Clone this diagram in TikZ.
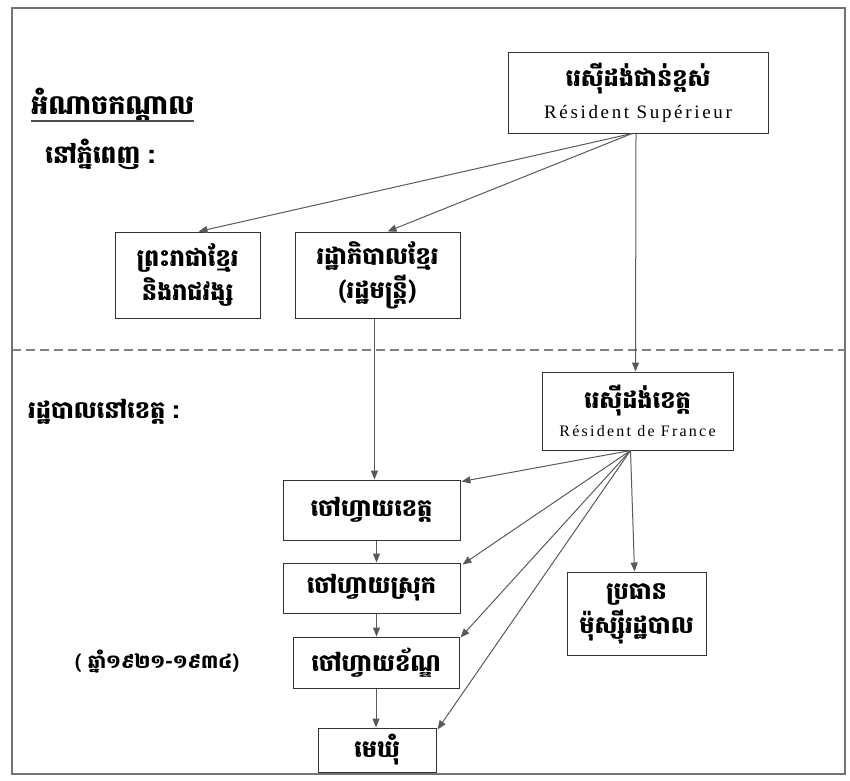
\documentclass[tikz,border=0pt]{standalone}
\usepackage{fontspec}
\newfontfamily\kh[Script=Khmer]{Battambang}
\newfontfamily\lat[LetterSpace=14]{Liberation Serif}
\usetikzlibrary{arrows.meta}
\begin{document}
\begin{tikzpicture}[x=1pt,y=-1pt,
  khfont/.style={font=\kh\bfseries\fontsize{24}{34}\selectfont},
  box/.style={draw=black!80,line width=1pt,align=center,inner sep=0pt,khfont},
  lbl/.style={anchor=west,inner sep=0pt,font=\kh\bfseries\fontsize{27}{30}\selectfont},
  arr/.style={draw=black!65,line width=1pt,-{Triangle[length=9pt,width=7pt]}}]
\useasboundingbox (0,0) rectangle (850,780);
\draw[black!55,line width=1.5pt] (12,8) rectangle (845,774);
\draw[black!50,line width=1.5pt,dash pattern=on 9pt off 5pt] (12,350) -- (845,350);

\node[box,minimum width=260,minimum height=81,font=\kh\bfseries\fontsize{24}{30}\selectfont] (rs) at (638,92.5)
  {រេស៊ីដង់ជាន់ខ្ពស់\\[2pt]{\lat\mdseries\fontsize{19}{20}\selectfont Résident Supérieur}};
\node[box,minimum width=145,minimum height=86] (kr) at (187.5,275)
  {ព្រះរាជាខ្មែរ\\និងរាជវង្ស};
\node[box,minimum width=165,minimum height=86] (gov) at (377.5,275)
  {រដ្ឋាភិបាលខ្មែរ\\(រដ្ឋមន្ត្រី)};
\node[box,minimum width=191,minimum height=78,font=\kh\bfseries\fontsize{24}{28}\selectfont] (rdf) at (637.5,411)
  {រេស៊ីដង់ខេត្ត\\[0pt]{\lat\mdseries\fontsize{16}{17}\selectfont Résident de France}};
\node[box,minimum width=177,minimum height=60] (khet) at (371.5,510) {ចៅហ្វាយខេត្ត};
\node[box,minimum width=177,minimum height=50] (srok) at (371.5,588) {ចៅហ្វាយស្រុក};
\node[box,minimum width=166,minimum height=51] (khan) at (376,662.5) {ចៅហ្វាយខ័ណ្ឌ};
\node[box,minimum width=118,minimum height=44] (khum) at (377,750) {មេឃុំ};
\node[box,minimum width=139,minimum height=83] (pr) at (636.5,613.5)
  {ប្រធាន\\ម៉ុស្ស៊ីរដ្ឋបាល};

\node[lbl] (c1) at (31,105) {អំណាចកណ្តាល};
\node[lbl,font=\kh\bfseries\fontsize{25}{30}\selectfont] (c2) at (45,154) {នៅភ្នំពេញ :};
\node[lbl,font=\kh\bfseries\fontsize{24}{26}\selectfont] (p1) at (28,412) {រដ្ឋបាលនៅខេត្ត :};
\node[lbl,font=\kh\bfseries\fontsize{19}{20}\selectfont] (yr) at (75,662) {( ឆ្នាំ១៩២១-១៩៣៤)};
\draw[black!70,line width=1.2pt] (c1.west |- 0,121) -- (c1.east |- 0,121);

\draw[arr] ([xshift=-6]rs.south) -- ([xshift=11]kr.north);
\draw[arr] ([xshift=-6]rs.south) -- ([xshift=10]gov.north);
\draw[arr] ([xshift=-2]rs.south) -- ([xshift=-2]rdf.north);
\draw[arr] ([xshift=-3]gov.south) -- ([xshift=-3]gov.south |- khet.north);
\draw[arr] ([xshift=-7]rdf.south) -- ([xshift=1,yshift=-2]khet.north east);
\draw[arr] ([xshift=-7]rdf.south) -- ([xshift=2,yshift=-2]srok.north east);
\draw[arr] ([xshift=-7]rdf.south) -- ([xshift=1,yshift=-1]khan.north east);
\draw[arr] ([xshift=-7]rdf.south) -- ([xshift=1,yshift=-2]khum.north east);
\draw[arr] ([xshift=-7]rdf.south) -- ([xshift=-2]pr.north);
\draw[arr] ([xshift=5]khet.south) -- ([xshift=5]srok.north);
\draw[arr] ([xshift=5]srok.south) -- ([xshift=5,yshift=0]srok.south |- khan.north);
\draw[arr] (khan.south) -- (khan.south |- khum.north);
\end{tikzpicture}
\end{document}
